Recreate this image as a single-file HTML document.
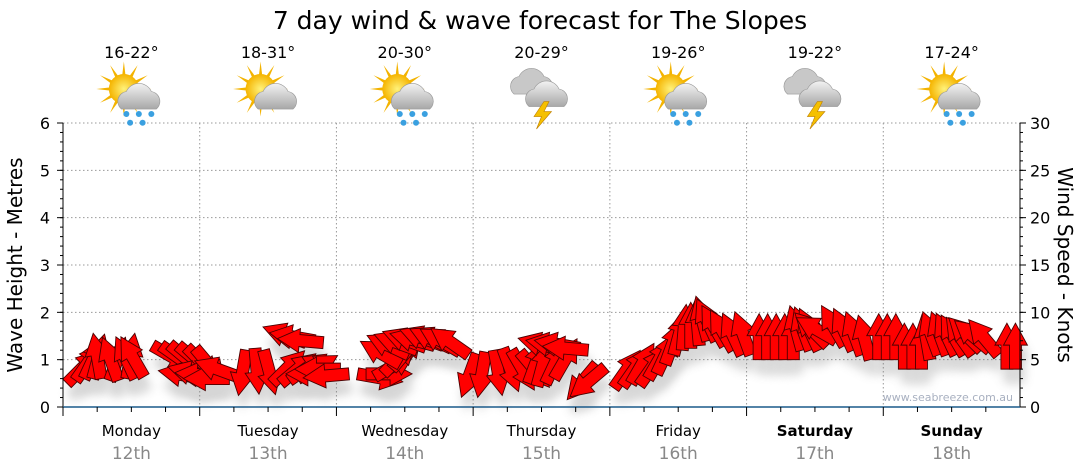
<!DOCTYPE html>
<html><head><meta charset="utf-8"><style>
body{margin:0;background:#fff;width:1080px;height:475px;overflow:hidden}
svg{display:block;font-family:"DejaVu Sans","Liberation Sans",sans-serif}
</style></head><body>
<svg id="chart" width="1080" height="475">
<defs>
<filter id="sh" x="-50%" y="-50%" width="200%" height="200%"><feGaussianBlur stdDeviation="5"/></filter>
<radialGradient id="sun" cx="50%" cy="50%" r="50%"><stop offset="0" stop-color="#fff27a"/><stop offset="1" stop-color="#f5b400"/></radialGradient>
<linearGradient id="cld" x1="0" y1="0" x2="0" y2="1"><stop offset="0" stop-color="#f2f2f2"/><stop offset="1" stop-color="#a8a8a8"/></linearGradient>
</defs>
<text x="540" y="29" text-anchor="middle" font-size="25" fill="#000">7 day wind &amp; wave forecast for The Slopes</text>
<g id="grid"></g>
<g id="shadows" opacity="0.3"></g>
<g id="arrows"></g>
<g id="axes"></g>
<g id="topicons"></g>
<text transform="translate(22,265) rotate(-90)" text-anchor="middle" font-size="20">Wave Height - Metres</text>
<text transform="translate(1058,265) rotate(90)" text-anchor="middle" font-size="20">Wind Speed - Knots</text>
<text x="1013" y="401" text-anchor="end" font-size="11" fill="#a8b0c0">www.seabreeze.com.au</text>
</svg>
<script>
const days=["Monday","Tuesday","Wednesday","Thursday","Friday","Saturday","Sunday"];
const dates=["12th","13th","14th","15th","16th","17th","18th"];
const temps=["16-22°","18-31°","20-30°","20-29°","19-26°","19-22°","17-24°"];
const icons=["rain","sun","rain","storm","rain","storm","rain"];
const waveTicks=[0,1,2,3,4,5,6];
const windTicks=[0,5,10,15,20,25,30];
const windSpeed=[
2.5,2.8,3,3,3,2.8,2.8,3,3,3.2,6.5,6.5,6.6,6.5,6.3,6.2,
3,3,3.2,3,3.2,6,6.2,6,2.5,2.5,2.8,3,6.8,7,6.8,3.5,
4,3.5,3.5,3.5,3.2,3.5,4,4.5,5.5,6,6.3,6.5,6.5,6.2,5.8,5.5,
5.6,5.8,6,6.2,6,5.8,2.5,2.2,2.5,3,6,6.2,6.2,6,4.5,4.2,
2,2.2,2.5,2.3,3,3.5,4.5,5.5,6,6.2,6.5,7,7,6.5,6,5.5,
5.5,5,5,5,5,5,6,6,6,6.5,7,6.5,6,5.5,5,5,
5,5,4,4,4,5,5.5,5.5,5.5,5.5,5.5,6,6,5.5,4,4];
const windDir=[
45,35,25,15,-10,20,-20,10,-25,-30,120,125,130,130,135,140,
280,285,275,270,290,190,175,165,45,50,55,60,290,280,275,270,
270,265,100,90,60,45,40,300,295,290,290,285,290,295,300,305,
200,190,170,160,150,140,20,15,25,30,285,280,280,275,220,230,
35,35,30,35,30,25,20,15,5,0,-5,-15,-25,-30,-30,-25,
-20,0,0,0,0,0,-15,-20,-25,-45,-60,-30,-25,-20,-15,0,
0,0,0,0,0,-10,-20,-20,-25,-30,-35,-45,-50,-40,0,0];
{
const NS="http://www.w3.org/2000/svg";
const L=63,R=1020,T=123,B=407,DW=(R-L)/7;
const yWave=v=>B-(v/6)*(B-T);
const yWind=v=>B-(v/30)*(B-T);
const xIdx=i=>L+4+i*(DW/16);
function mk(tag,attrs,parent){const e=document.createElementNS(NS,tag);for(const k in attrs)e.setAttribute(k,attrs[k]);parent.appendChild(e);return e;}
const grid=document.getElementById('grid'),axes=document.getElementById('axes'),topG=document.getElementById('topicons');
waveTicks.forEach(v=>{if(v>0){const g=mk('line',{x1:L,x2:R,y1:yWave(v),y2:yWave(v),stroke:'#999','stroke-dasharray':'1.5,2.5','stroke-width':1},grid);

}
const t=mk('text',{x:50,y:yWave(v)+6,'text-anchor':'end','font-size':16},axes);t.textContent=v;


mk('line',{x1:L-6,x2:L,y1:yWave(v),y2:yWave(v),stroke:'#000'},axes);});
for(let v=0;v<6;v+=0.2){mk('line',{x1:L-3,x2:L,y1:yWave(v),y2:yWave(v),stroke:'#000'},axes);}
windTicks.forEach(v=>{const t=mk('text',{x:1030,y:yWind(v)+6,'font-size':16},axes);t.textContent=v;


mk('line',{x1:R,x2:R+6,y1:yWind(v),y2:yWind(v),stroke:'#000'},axes);});
for(let v=0;v<30;v++){mk('line',{x1:R,x2:R+3,y1:yWind(v),y2:yWind(v),stroke:'#000'},axes);}
mk('line',{x1:L,x2:L,y1:T,y2:B,stroke:'#000'},axes);
mk('line',{x1:R,x2:R,y1:T,y2:B,stroke:'#000'},axes);
mk('line',{x1:L,x2:R,y1:B,y2:B,stroke:'#1a5a8a','stroke-width':1.5},axes);
days.forEach((d,i)=>{const x0=L+i*DW,cx=x0+DW/2;
if(i>0){const g=mk('line',{x1:x0,x2:x0,y1:T,y2:B,stroke:'#999','stroke-dasharray':'1.5,2.5'},grid);

}
mk('line',{x1:x0,x2:x0,y1:B,y2:B+9,stroke:'#000'},axes);
for(let k=1;k<4;k++)mk('line',{x1:x0+k*DW/4,x2:x0+k*DW/4,y1:B,y2:B+5,stroke:'#000'},axes);
const dl=mk('text',{x:cx,y:436,'text-anchor':'middle','font-size':15,'font-weight':i>=5?'bold':'normal'},axes);dl.textContent=d;


const dt=mk('text',{x:cx,y:459,'text-anchor':'middle','font-size':17,fill:'#888'},axes);dt.textContent=dates[i];


const tl=mk('text',{x:cx,y:58,'text-anchor':'middle','font-size':16},topG);tl.textContent=temps[i];


const ic=mk('g',{transform:`translate(${cx},94) scale(1.25)`},topG);


if(icons[i]!=='storm'){
 for(let a=0;a<12;a++){const r=a*30*Math.PI/180;mk('polygon',{points:`${-6+Math.cos(r-0.12)*11},${-4+Math.sin(r-0.12)*11} ${-6+Math.cos(r+0.12)*11},${-4+Math.sin(r+0.12)*11} ${-6+Math.cos(r)*22},${-4+Math.sin(r)*22}`,fill:'#f3b300'},ic);}
 mk('circle',{cx:-6,cy:-4,r:12,fill:'url(#sun)'},ic);
 mk('path',{d:'M-8,12 a8,8 0 0 1 4,-14 a11,11 0 0 1 20,0 a8,8 0 0 1 4,14 z',fill:'url(#cld)',stroke:'#999','stroke-width':0.5},ic);
 if(icons[i]==='rain'){[[-4,16],[6,16],[16,16],[-1,23],[9,23]].forEach(p=>mk('circle',{cx:p[0],cy:p[1],r:2.4,fill:'#3aa0e0'},ic));}
}else{
 mk('path',{d:'M-22,0 a8,8 0 0 1 4,-14 a11,11 0 0 1 20,0 a8,8 0 0 1 4,14 z',fill:'#c8c8c8',stroke:'#999','stroke-width':0.5},ic);
 mk('path',{d:'M-10,10 a8,8 0 0 1 4,-14 a11,11 0 0 1 20,0 a8,8 0 0 1 4,14 z',fill:'url(#cld)',stroke:'#999','stroke-width':0.5},ic);
 mk('polygon',{points:'2,6 -6,18 0,18 -4,28 8,14 2,14 6,6',fill:'#f5c000',stroke:'#c08000','stroke-width':0.5},ic);
}
});
const arrowsG=document.getElementById('arrows'),shG=document.getElementById('shadows');
const shape="-6,0 6,0 6,-24 12,-24 0,-46 -12,-24 -6,-24";
windSpeed.forEach((s,i)=>{const x=xIdx(i),y=yWind(s),d=windDir[i];
mk('polygon',{points:shape,fill:'#777',filter:'url(#sh)',transform:`translate(${x+3},${y+14}) rotate(${d})`},shG);
const p=mk('polygon',{points:shape,fill:'#ff0000',stroke:'#4a0000','stroke-width':0.9,transform:`translate(${x},${y}) rotate(${d})`},arrowsG);


});
}
</script>
</body></html>
